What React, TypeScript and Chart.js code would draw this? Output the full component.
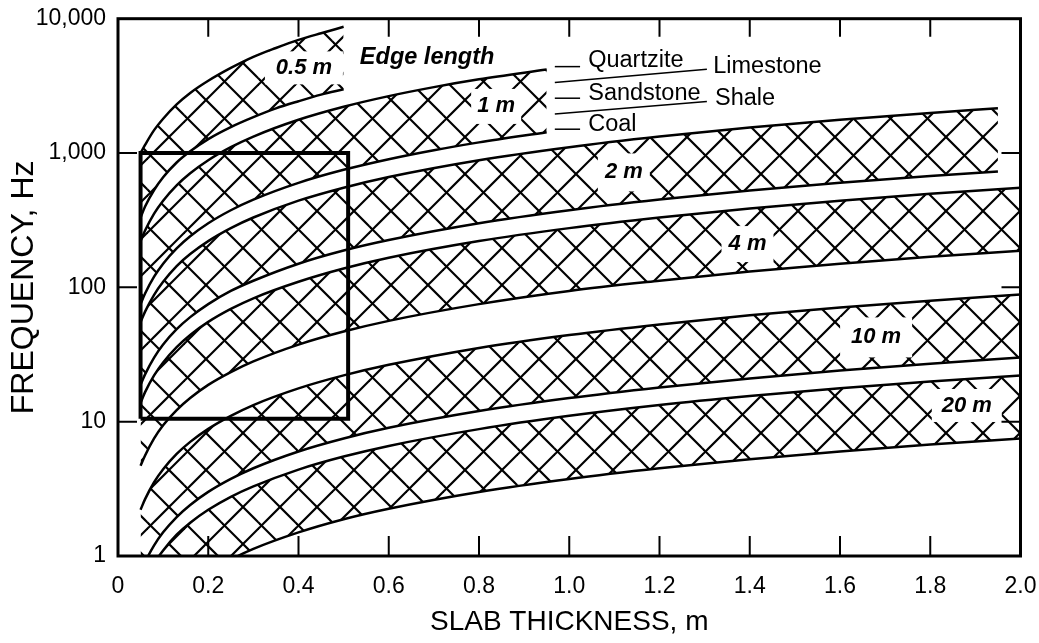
import { useEffect, useRef } from 'react';
import { Chart, registerables } from 'chart.js';

Chart.register(...registerables);

const FONT = "'Liberation Sans', Arial, Helvetica, sans-serif";

// Slab thickness samples (m) for each edge-length band
const T_05 = [0.05, 0.06, 0.08, 0.1, 0.13, 0.16, 0.2, 0.25, 0.3, 0.35, 0.4, 0.45, 0.5];
const T_1 = [0.05, 0.06, 0.08, 0.1, 0.13, 0.16, 0.2, 0.25, 0.3, 0.4, 0.5, 0.6, 0.7, 0.8, 0.95];
const T_2 = [0.05, 0.06, 0.08, 0.1, 0.13, 0.16, 0.2, 0.25, 0.3, 0.4, 0.5, 0.6, 0.8, 1.0, 1.2, 1.4, 1.6, 1.8, 1.95];
const T_LONG = [0.05, 0.06, 0.08, 0.1, 0.13, 0.16, 0.2, 0.25, 0.3, 0.4, 0.5, 0.6, 0.8, 1.0, 1.2, 1.4, 1.6, 1.8, 2.0];

// Frequencies (Hz): upper bound (Quartzite) and lower bound (Coal)
const Q_05 = [1000, 1150, 1480, 1800, 2300, 2800, 3450, 4300, 5200, 6050, 6950, 7800, 8700];
const C_05 = [330, 400, 530, 660, 850, 1030, 1270, 1560, 1850, 2150, 2430, 2720, 2980];
const Q_1 = [221, 265, 354, 442, 575, 707, 884, 1105, 1326, 1768, 2210, 2652, 3094, 3536, 4180];
const C_1 = [75, 90, 120, 150, 195, 240, 300, 375, 450, 600, 750, 900, 1050, 1200, 1430];
const Q_2 = [55, 66, 88, 110, 144, 177, 221, 276, 331, 442, 552, 663, 884, 1105, 1326, 1547, 1768, 1989, 2155];
const C_2 = [18.8, 22.5, 30, 37.5, 48.8, 60, 75, 94, 112, 150, 188, 225, 300, 375, 450, 525, 600, 675, 730];
const Q_4 = [13.8, 16.6, 22.1, 27.6, 35.9, 44.2, 55.3, 69.1, 82.9, 110, 138, 166, 221, 276, 331, 387, 442, 497, 552];
const C_4 = [4.7, 5.6, 7.5, 9.4, 12.2, 15, 18.8, 23.4, 28.1, 37.5, 46.9, 56.3, 75, 94, 112, 131, 150, 169, 187];
const Q_10 = [2.21, 2.65, 3.54, 4.42, 5.75, 7.07, 8.84, 11.05, 13.3, 17.7, 22.1, 26.5, 35.4, 44.2, 53, 61.9, 70.7, 79.6, 88.4];
const C_10 = [0.75, 0.9, 1.2, 1.5, 1.95, 2.4, 3, 3.75, 4.5, 6, 7.5, 9, 12, 15, 18, 21, 24, 27, 30];
const Q_20 = [0.55, 0.66, 0.88, 1.1, 1.44, 1.77, 2.21, 2.76, 3.3, 4.4, 5.5, 6.6, 8.8, 11.05, 13.3, 15.5, 17.7, 19.9, 22.1];
const C_20 = [0.19, 0.23, 0.3, 0.38, 0.49, 0.6, 0.75, 0.94, 1.13, 1.5, 1.88, 2.25, 3, 3.75, 4.5, 5.25, 6, 6.75, 7.5];

// Highlighted window
const RECT_T = [0.05, 0.05, 0.51, 0.51, 0.05];
const RECT_F = [10.5, 1000, 1000, 10.5, 10.5];

// Axis ticks
const X_TICKS = [0, 0.2, 0.4, 0.6, 0.8, 1.0, 1.2, 1.4, 1.6, 1.8, 2.0];
const Y_TICKS = [1, 10, 100, 1000, 10000];

// Band labels: text, thickness, frequency (centre), box width/height in px
const BAND_LABELS = ['0.5 m', '1 m', '2 m', '4 m', '10 m', '20 m'];
const BAND_LABEL_T = [0.412, 0.838, 1.121, 1.395, 1.68, 1.881];
const BAND_LABEL_F = [4305, 2223, 717, 210, 42.4, 13.2];
const BAND_BOX_W = [78, 50, 52, 52, 72, 70];
const BAND_BOX_H = [33, 35, 38, 36, 40, 33];

// Rock type key
const ROCK_NAMES = ['Quartzite', 'Limestone', 'Sandstone', 'Shale', 'Coal'];
const ROCK_T = [1.042, 1.319, 1.042, 1.323, 1.042];
const ROCK_F = [4875, 4398, 2754, 2559, 1619];
const DASH_F = [4398, 2559, 1504];
const DASH_T0 = 0.968;
const DASH_T1 = 1.024;
const SEP_T = [0.968, 1.305];
const SEP1_F = [3343, 4207];
const SEP2_F = [1955, 2414];

function makeHatch(): CanvasPattern | string {
  const s = 37;
  const c = document.createElement('canvas');
  c.width = s;
  c.height = s;
  const g = c.getContext('2d');
  if (!g) return '#000';
  g.strokeStyle = '#000';
  g.lineWidth = 2.2;
  const a = 32; // x - y phase
  const b = 10; // x + y phase
  for (let k = -3; k <= 3; k++) {
    const ca = a + k * s;
    g.beginPath();
    g.moveTo(ca - 60, -60);
    g.lineTo(ca + 100, 100);
    g.stroke();
    const cb = b + k * s;
    g.beginPath();
    g.moveTo(cb + 60, -60);
    g.lineTo(cb - 100, 100);
    g.stroke();
  }
  const p = g.createPattern(c, 'repeat');
  return p || '#000';
}

export default function App() {
  const ref = useRef<HTMLCanvasElement | null>(null);

  useEffect(() => {
    if (!ref.current) return;
    const hatch = makeHatch();
    const pts = (t: number[], f: number[]) => t.map((x, i) => ({ x, y: f[i] }));
    const bands: [number[], number[], number[], string][] = [
      [T_05, Q_05, C_05, '0.5 m'],
      [T_1, Q_1, C_1, '1 m'],
      [T_2, Q_2, C_2, '2 m'],
      [T_LONG, Q_4, C_4, '4 m'],
      [T_LONG, Q_10, C_10, '10 m'],
      [T_LONG, Q_20, C_20, '20 m'],
    ];
    const datasets: any[] = [];
    bands.forEach(([t, q, c, name]) => {
      datasets.push({
        label: name + ' Quartzite',
        data: pts(t, q),
        borderColor: '#000',
        borderWidth: 2.5,
        pointRadius: 0,
        fill: '+1',
        backgroundColor: hatch,
        cubicInterpolationMode: 'monotone',
      });
      datasets.push({
        label: name + ' Coal',
        data: pts(t, c),
        borderColor: '#000',
        borderWidth: 2.5,
        pointRadius: 0,
        fill: false,
        cubicInterpolationMode: 'monotone',
      });
    });
    datasets.push({
      label: 'window',
      data: pts(RECT_T, RECT_F),
      borderColor: '#000',
      borderWidth: 4,
      pointRadius: 0,
      fill: false,
      tension: 0,
      borderJoinStyle: 'miter',
    });

    const labelsPlugin = {
      id: 'bandLabels',
      beforeDatasetsDraw(chart: any) {
        const { ctx, scales } = chart;
        const xs = scales.x;
        const ys = scales.y;
        ctx.save();
        BAND_LABELS.forEach((txt, i) => {
          const cx = xs.getPixelForValue(BAND_LABEL_T[i]);
          const cy = ys.getPixelForValue(BAND_LABEL_F[i]);
          ctx.fillStyle = '#fff';
          ctx.fillRect(cx - BAND_BOX_W[i] / 2, cy - BAND_BOX_H[i] / 2, BAND_BOX_W[i], BAND_BOX_H[i]);
          ctx.fillStyle = '#000';
          ctx.font = `italic bold 22px ${FONT}`;
          ctx.textAlign = 'center';
          ctx.textBaseline = 'middle';
          ctx.fillText(txt, cx, cy);
        });
        ctx.restore();
      },
      afterDraw(chart: any) {
        const { ctx, scales, chartArea } = chart;
        const xs = scales.x;
        const ys = scales.y;
        const { left, right, top, bottom } = chartArea;
        ctx.save();
        // frame
        ctx.strokeStyle = '#000';
        ctx.lineWidth = 3;
        ctx.strokeRect(left, top, right - left, bottom - top);
        // inward ticks
        ctx.lineWidth = 2;
        X_TICKS.forEach((v) => {
          if (v <= 0 || v >= 2) return;
          const px = xs.getPixelForValue(v);
          ctx.beginPath();
          ctx.moveTo(px, bottom);
          ctx.lineTo(px, bottom - 20);
          ctx.moveTo(px, top);
          ctx.lineTo(px, top + 18);
          ctx.stroke();
        });
        Y_TICKS.forEach((v) => {
          if (v <= 1 || v >= 10000) return;
          const py = ys.getPixelForValue(v);
          ctx.beginPath();
          ctx.moveTo(left, py);
          ctx.lineTo(left + 19, py);
          ctx.moveTo(right, py);
          ctx.lineTo(right - 19, py);
          ctx.stroke();
        });
        // Edge length header
        ctx.fillStyle = '#000';
        ctx.font = `italic bold 23.5px ${FONT}`;
        ctx.textAlign = 'left';
        ctx.textBaseline = 'middle';
        ctx.fillText('Edge length', xs.getPixelForValue(0.536), ys.getPixelForValue(5100));
        // rock key
        ctx.font = `23.5px ${FONT}`;
        ROCK_NAMES.forEach((n, i) => {
          ctx.fillText(n, xs.getPixelForValue(ROCK_T[i]), ys.getPixelForValue(ROCK_F[i]));
        });
        ctx.lineWidth = 1.5;
        DASH_F.forEach((f) => {
          const py = ys.getPixelForValue(f);
          ctx.beginPath();
          ctx.moveTo(xs.getPixelForValue(DASH_T0), py);
          ctx.lineTo(xs.getPixelForValue(DASH_T1), py);
          ctx.stroke();
        });
        [SEP1_F, SEP2_F].forEach((f) => {
          ctx.beginPath();
          ctx.moveTo(xs.getPixelForValue(SEP_T[0]), ys.getPixelForValue(f[0]));
          ctx.lineTo(xs.getPixelForValue(SEP_T[1]), ys.getPixelForValue(f[1]));
          ctx.stroke();
        });
        ctx.restore();
      },
    };

    const chart = new Chart(ref.current, {
      type: 'line',
      data: { datasets },
      options: {
        animation: false,
        responsive: false,
        devicePixelRatio: 1,
        events: [],
        layout: { padding: { top: 18.7, right: 18.5, left: 0, bottom: 0 } },
        plugins: {
          legend: { display: false },
          tooltip: { enabled: false },
          filler: { drawTime: 'beforeDatasetsDraw' } as any,
        },
        scales: {
          x: {
            type: 'linear',
            min: 0,
            max: 2,
            afterBuildTicks: (s: any) => {
              s.ticks = X_TICKS.map((v) => ({ value: v }));
            },
            afterFit: (s: any) => {
              s.height = 87;
              s.paddingLeft = 0;
              s.paddingRight = 0;
            },
            ticks: {
              autoSkip: false,
              maxRotation: 0,
              padding: 17,
              color: '#000',
              font: { family: FONT, size: 23 },
              callback: (v: any) => (Number(v) === 0 ? '0' : Number(v).toFixed(1)),
            },
            grid: { display: false, drawTicks: false },
            border: { display: false },
            title: {
              display: true,
              text: 'SLAB THICKNESS, m',
              color: '#000',
              font: { family: FONT, size: 28 },
              padding: { top: 0, bottom: 4 },
            },
          },
          y: {
            type: 'logarithmic',
            min: 1,
            max: 10000,
            afterBuildTicks: (s: any) => {
              s.ticks = Y_TICKS.map((v) => ({ value: v }));
            },
            afterFit: (s: any) => {
              s.width = 118;
              s.paddingTop = 0;
              s.paddingBottom = 0;
            },
            ticks: {
              autoSkip: false,
              padding: 12,
              color: '#000',
              font: { family: FONT, size: 23 },
              callback: (v: any) => Number(v).toLocaleString('en-US'),
            },
            grid: { display: false, drawTicks: false },
            border: { display: false },
            title: {
              display: true,
              text: 'FREQUENCY, Hz',
              color: '#000',
              font: { family: FONT, size: 32 },
              padding: { top: 5, bottom: 0 },
            },
          },
        },
      },
      plugins: [labelsPlugin],
    } as any);
    return () => chart.destroy();
  }, []);

  return (
    <div style={{ position: 'fixed', left: 0, top: 0, width: 1039, height: 643, background: '#fff' }}>
      <canvas ref={ref} width={1039} height={643} style={{ display: 'block' }} />
    </div>
  );
}
